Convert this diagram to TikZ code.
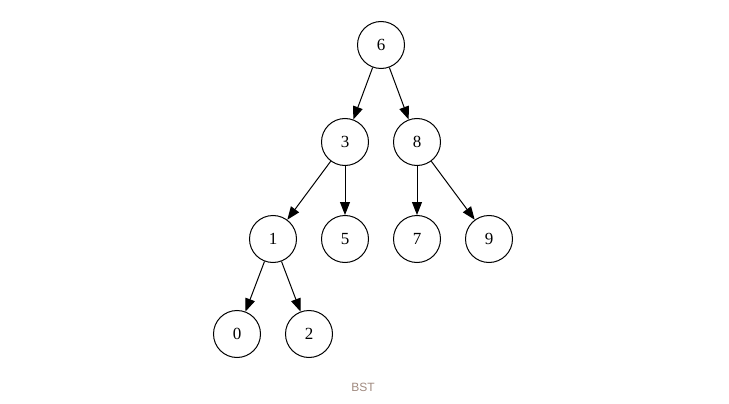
\documentclass[tikz,border=0pt]{standalone}
\usepackage{fontspec}
\setmainfont{Liberation Serif}
\newfontfamily\labelfont{Liberation Sans}
\usetikzlibrary{arrows.meta}
\definecolor{captiongray}{HTML}{A08A80}
\tikzset{
  keynode/.style={circle, draw, line width=1pt, minimum size=47pt, inner sep=0pt, font=\fontsize{17}{17}\selectfont},
  link/.style={line width=1pt, -{Triangle[length=13pt,width=10pt]}},
}
\begin{document}
\begin{tikzpicture}[x=1pt,y=-1pt]
\useasboundingbox (0,0) rectangle (729,404);
\node[keynode] (n6) at (381,45) {6};
\node[keynode] (n3) at (345,142) {3};
\node[keynode] (n8) at (417,142) {8};
\node[keynode] (n1) at (273,239) {1};
\node[keynode] (n5) at (345,239) {5};
\node[keynode] (n7) at (417,239) {7};
\node[keynode] (n9) at (489,239) {9};
\node[keynode] (n0) at (237,334) {0};
\node[keynode] (n2) at (309,334) {2};
\draw[link] (n6) -- (n3);
\draw[link] (n6) -- (n8);
\draw[link] (n3) -- (n1);
\draw[link] (n3) -- (n5);
\draw[link] (n8) -- (n7);
\draw[link] (n8) -- (n9);
\draw[link] (n1) -- (n0);
\draw[link] (n1) -- (n2);
\node[font=\labelfont\fontsize{12}{12}\selectfont, text=captiongray] (cap) at (363,387) {BST};
\end{tikzpicture}
\end{document}
